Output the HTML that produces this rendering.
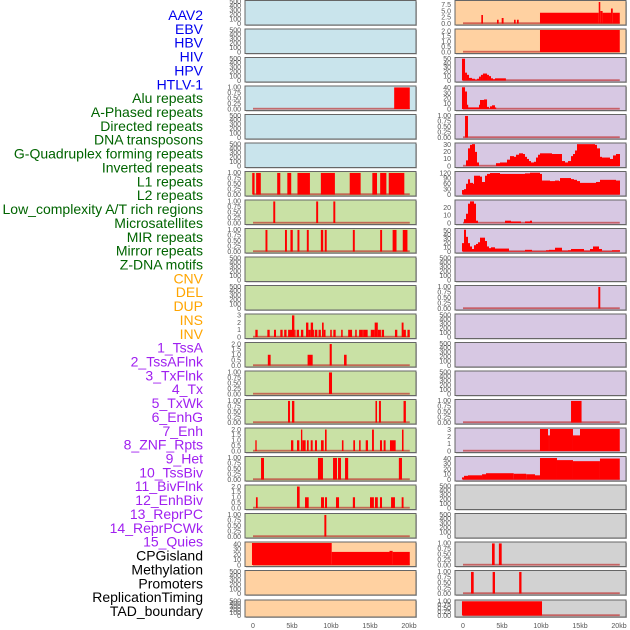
<!DOCTYPE html>
<html><head><meta charset="utf-8"><style>
html,body{margin:0;padding:0;background:#fff;}
svg{display:block;font-family:"Liberation Sans",sans-serif;}
</style></head><body>
<svg id="chart" width="630" height="630" viewBox="0 0 630 630" xmlns="http://www.w3.org/2000/svg"></svg>
<script>
// ---- data (kb start, kb end, value) ----
const hivBars=[[18.1,20.1,1]];
const aluBars=[[-0.1,0.2,1],[0.4,1.0,1],[3.1,3.5,1],[4.4,4.9,1],[5.7,7.3,1],[8.7,10.5,1],[12.4,13.8,1],[15.3,15.9,1],[16.3,17.1,1],[17.4,19.4,1]];
const aphasedBars=[[2.6,2.85,1],[8.1,8.35,1],[10.3,10.55,1]];
const directedBars=[[1.6,1.85,1],[4.1,4.35,1],[4.8,5.1,1],[5.7,5.95,1],[6.9,7.15,1],[8.7,9.0,1],[9.2,9.45,1],[12.8,13.05,1],[16.3,16.55,1],[17.9,18.4,1],[19.2,19.8,1]];
const invertedBars=[[0.3,0.6,1],[1.84,2.14,1],[2.69,2.95,1],[3.5,3.8,1],[4.0,4.3,1],[4.5,5.0,1],[5.0,5.3,3],[5.3,5.4,1],[5.6,5.9,1],[6.15,6.45,1],[6.8,7.1,2],[7.1,7.4,1],[7.4,7.7,2],[7.7,7.8,1],[7.95,8.25,1],[8.4,8.7,1],[8.85,9.06,2],[9.06,9.3,1],[9.9,10.1,1],[10.3,10.6,1],[11.3,11.5,1],[12.2,12.7,1],[13.1,13.3,1],[13.6,14.0,1],[14.0,14.2,1],[14.2,14.7,1],[15.1,15.6,1],[15.6,16.0,2],[16.0,16.4,1],[16.5,16.8,1],[18.2,18.5,1],[19.06,19.3,2],[19.3,19.6,1],[19.8,20.1,1]];
const l1Bars=[[1.9,2.26,1],[7.0,7.65,1],[9.83,10.1,2],[11.67,12.0,1]];
const l2Bars=[[9.74,10.13,1]];
const lowcBars=[[4.49,4.74,1],[5.0,5.3,1],[15.7,15.9,1],[16.15,16.4,1],[19.3,19.6,1]];
const microBars=[[0.3,0.47,1],[4.87,5.17,1],[5.64,5.94,1],[6.15,6.32,2],[6.32,6.75,1],[6.92,7.14,1],[7.4,7.65,1],[7.95,8.2,1],[8.72,9.06,1],[9.23,9.44,2],[11.4,11.6,1],[12.86,13.08,1],[13.6,13.8,1],[14.45,14.74,1],[15.26,15.5,2],[16.28,16.54,1],[16.75,17.0,1],[17.56,18.29,1],[19.1,19.3,2]];
const mirBars=[[1.03,1.41,1],[8.33,8.97,1],[10.26,10.77,1],[10.9,11.28,1],[11.8,12.2,1],[18.7,19.1,1]];
const mirrorBars=[[0.38,0.6,1],[5.64,5.98,2],[6.67,7.14,1],[8.72,9.1,1],[9.23,9.49,1],[10.64,11.03,1],[12.8,13.08,1],[15.0,15.5,1],[15.64,16.0,1],[16.28,16.54,1],[17.7,18.2,1],[19.06,19.3,1]];
const zdnaBars=[[9.15,9.4,1]];
const cnvBars=[[-0.13,10.09,42],[10.09,17.5,25],[17.5,17.9,27],[17.9,20.1,25]];
const insBars=[[2.35,2.56,3.4],[4.36,4.57,1.5],[4.96,5.2,2.2],[6.54,6.75,1.5],[6.92,7.14,1.5],[9.87,17.4,4.3],[17.4,17.6,8.6],[17.6,17.9,5.0],[17.9,18.97,4.3],[18.97,19.2,6.0],[19.2,20.1,4.3]];
const invBars=[[9.87,20.1,2.1]];
const tssaBars=[[-0.13,0.26,50],[0.26,0.51,18],[0.51,0.77,13],[0.77,1.15,6],[1.15,1.54,4],[1.54,1.8,2],[1.8,2.05,4],[2.05,2.3,9],[2.3,2.56,13],[2.56,3.08,16],[3.08,3.33,13],[3.33,3.59,10],[3.59,3.85,5],[3.85,4.1,3],[4.1,5.5,5]];
const tssaflnkBars=[[-0.13,0.26,41],[0.26,0.51,33],[0.51,0.64,8],[0.64,2.05,3],[2.05,2.18,8],[2.18,2.69,17],[2.69,3.08,18],[3.08,3.33,4],[3.33,3.46,1],[3.46,3.72,5],[3.72,4.1,7],[4.1,4.23,3]];
const txflnkBars=[[0.26,0.64,1]];
const txZ=[[78,84,8],[84,90,25],[90,96,30],[96,105,31],[105,111,20],[111,117,5],[168,180,4],[180,201,5],[201,210,9],[210,222,14],[222,228,13],[228,237,16],[237,249,18],[249,255,17],[255,261,13],[261,267,10],[267,273,7],[273,282,5],[282,288,6],[288,294,12],[294,300,16],[300,336,18],[336,366,17],[366,375,7],[375,384,5],[384,393,7],[393,399,14],[399,405,17],[405,411,22],[411,435,31],[435,441,31],[441,465,31],[465,471,30],[471,480,25],[480,486,13],[486,510,12],[510,519,10],[519,528,15],[528,540,17]];
const txwkZ=[[66,72,25],[72,78,30],[78,84,60],[84,90,85],[90,99,65],[99,102,60],[102,120,105],[120,126,100],[126,135,70],[135,141,105],[141,150,115],[150,180,120],[180,255,115],[255,270,118],[270,300,122],[300,306,115],[306,330,78],[330,345,75],[345,357,78],[357,360,75],[360,393,92],[393,402,86],[402,411,82],[411,420,75],[420,468,65],[468,480,70],[480,528,82],[528,540,78]];
const enhgZ=[[72,78,5],[78,84,12],[84,90,25],[90,102,28],[102,108,25],[108,114,3],[195,213,3],[213,243,2],[255,270,2],[270,276,3]];
const enhZ=[[66,72,20],[72,78,52],[78,84,35],[84,90,20],[90,96,12],[96,102,6],[102,108,15],[108,114,18],[114,120,22],[120,135,33],[135,141,25],[141,147,12],[147,153,8],[153,165,10],[165,207,7],[207,255,1],[255,276,4],[276,318,1],[318,327,3],[327,345,4],[345,366,9],[366,384,2],[384,393,3],[393,432,6],[432,450,2],[450,459,6],[459,477,12],[477,486,6],[486,516,1],[516,540,3]];
const hetBars=[[17.35,17.6,1]];
const enhgBars2=[[13.85,15.2,1]];
const enhBars2=[[9.87,10.9,3.1],[10.9,11.15,2.2],[11.15,14.1,3.1],[14.1,15.0,2.2],[15.0,20.1,3.1]];
const quiesBars=[[-0.13,0.13,4],[0.13,0.64,7],[0.64,2.44,8],[2.44,2.95,10],[2.95,6.5,12],[6.5,8.1,11],[8.1,9.23,10],[9.23,9.87,8],[9.87,12.05,41],[12.05,14.1,37],[14.1,17.56,35],[17.56,20.1,40]];
const cpgBars=[[3.72,4.06,1],[4.6,4.96,1]];
const methBars=[[1.03,1.37,1],[3.8,4.1,1],[7.2,7.5,1]];
const tadBars=[[-0.13,10.13,1]];
// tick label sets
const tEmpty=["0","100","200","300","400","500"], vEmpty=[0,100,200,300,400,500];
const t1=["0.00","0.25","0.50","0.75","1.00"], v1=[0,0.25,0.5,0.75,1];
const t2=["0.0","0.5","1.0","1.5","2.0"], v2=[0,0.5,1,1.5,2];
const t3=["0","1","2","3"], v3=[0,1,2,3];
const tIns=["0.0","2.5","5.0","7.5"], vIns=[0,2.5,5,7.5];
const xTickVals=[0,5,10,15,20], xTickLabels=["0","5kb","10kb","15kb","20kb"];
const labels=["AAV2","EBV","HBV","HIV","HPV","HTLV-1","Alu repeats","A-Phased repeats","Directed repeats","DNA transposons","G-Quadruplex forming repeats","Inverted repeats","L1 repeats","L2 repeats","Low_complexity A/T rich regions","Microsatellites","MIR repeats","Mirror repeats","Z-DNA motifs","CNV","DEL","DUP","INS","INV","1_TssA","2_TssAFlnk","3_TxFlnk","4_Tx","5_TxWk","6_EnhG","7_Enh","8_ZNF_Rpts","9_Het","10_TssBiv","11_BivFlnk","12_EnhBiv","13_ReprPC","14_ReprPCWk","15_Quies","CPGisland","Methylation","Promoters","ReplicationTiming","TAD_boundary"];
const labelColors=[];
labels.forEach((l,i)=>labelColors.push(i<6?"#0000ee":i<19?"#006400":i<24?"#ffa500":i<39?"#a020f0":"#000"));

function zk(a){return a.map(b=>[(b[0]-69)/23.4,(b[1]-69)/23.4,b[2]]);}
const BLUE="#c9e4ec",GREEN="#c9e1a5",PEACH="#ffd1a1",LAV="#d7c8e3",GREY="#d2d2d2";
// panels: [col,row,bg,bars,ymax,tickVals,tickLabels]
const panels=[
[0,0,BLUE,null],[0,1,BLUE,null],[0,2,BLUE,null],[0,3,BLUE,hivBars,1.02,v1,t1],[0,4,BLUE,null],[0,5,BLUE,null],
[0,6,GREEN,aluBars,1.02,v1,t1],[0,7,GREEN,aphasedBars,1.02,v1,t1],[0,8,GREEN,directedBars,1.02,v1,t1],
[0,9,GREEN,null],[0,10,GREEN,null],[0,11,GREEN,invertedBars,3.05,v3,t3],[0,12,GREEN,l1Bars,2.05,v2,t2],
[0,13,GREEN,l2Bars,1.02,v1,t1],[0,14,GREEN,lowcBars,1.02,v1,t1],[0,15,GREEN,microBars,2.05,v2,t2],
[0,16,GREEN,mirBars,1.02,v1,t1],[0,17,GREEN,mirrorBars,2.05,v2,t2],[0,18,GREEN,zdnaBars,1.02,v1,t1],
[0,19,PEACH,cnvBars,42,[0,10,20,30,40],["0","10","20","30","40"]],[0,20,PEACH,null],[0,21,PEACH,null],
[1,0,PEACH,insBars,8.8,vIns,tIns],[1,1,PEACH,invBars,2.1,v2,t2],
[1,2,LAV,tssaBars,50.5,[0,10,20,30,40,50],["0","10","20","30","40","50"]],
[1,3,LAV,tssaflnkBars,41.5,[0,10,20,30,40],["0","10","20","30","40"]],
[1,4,LAV,txflnkBars,1.02,v1,t1],
[1,5,LAV,zk(txZ),31.2,[0,10,20,30],["0","10","20","30"]],
[1,6,LAV,zk(txwkZ),123,[0,30,60,90,120],["0","30","60","90","120"]],
[1,7,LAV,zk(enhgZ),28.5,[0,10,20],["0","10","20"]],
[1,8,LAV,zk(enhZ),52.5,[0,10,20,30,40,50],["0","10","20","30","40","50"]],
[1,9,LAV,null],[1,10,LAV,hetBars,1.02,v1,t1],[1,11,LAV,null],[1,12,LAV,null],[1,13,LAV,null],
[1,14,LAV,enhgBars2,1.02,v1,t1],[1,15,LAV,enhBars2,3.1,v3,t3],
[1,16,LAV,quiesBars,42,[0,10,20,30,40],["0","10","20","30","40"]],
[1,17,GREY,null],[1,18,GREY,null],[1,19,GREY,cpgBars,1.02,v1,t1],[1,20,GREY,methBars,1.02,v1,t1],[1,21,GREY,tadBars,1.02,v1,t1]
];
const NS="http://www.w3.org/2000/svg";
const svg=document.getElementById("chart");
function mk(tag,attrs,parent){const e=document.createElementNS(NS,tag);for(const k in attrs)e.setAttribute(k,attrs[k]);(parent||svg).appendChild(e);return e;}
// labels
labels.forEach((l,i)=>{
  const t=mk("text",{x:203,y:15+i*13.86+5,"text-anchor":"end","font-size":"14",fill:labelColors[i]});
  t.textContent=l;
  
  
});
panels.forEach(p=>{
  const [col,row,bg,bars,ymax,tv,tl]=p;
  const px=col?455:245, pw=171;
  const top=row===21?600:row*28.5+0.5, h=row===21?17:24.5;
  const g=mk("g",{});
  
  
  mk("rect",{x:px+1,y:top+1,width:pw,height:h,fill:"#bbb"},g);
  mk("rect",{x:px,y:top,width:pw,height:h,fill:bg,stroke:"#666","stroke-width":1},g);
  const yb=top+h-1.5, yt=top+1;
  const X=kb=>px+8+kb*7.8;
  const tvals=bars?tv:vEmpty, tlabs=bars?tl:tEmpty, ym=bars?ymax:500;
  const Y=v=>yb-(v/ym)*(yb-yt);
  tvals.forEach((v,i)=>{
    const t=mk("text",{x:px-4,y:Y(v)+2.3,"text-anchor":"end","font-size":"7",fill:"#555"},g);
    t.textContent=tlabs[i];
    
    
  });
  if(bars){
    const bl=mk("rect",{x:X(0),y:yb-1.2,width:X(20.1)-X(0),height:1.8,fill:"rgba(190,40,40,0.65)"},g);
    
    
    bars.forEach(b=>{
      const x1=X(b[0]),x2=X(b[1]);
      const r=mk("rect",{x:x1,y:Y(b[2]),width:Math.max(x2-x1,1.2),height:yb-Y(b[2]),fill:"#ff0000"},g);
      
      
    });
  }
});
[0,1].forEach(col=>{
  const px=col?455:245;
  xTickVals.forEach((v,i)=>{
    const t=mk("text",{x:px+8+v*7.8,y:628,"text-anchor":"middle","font-size":"7",fill:"#555"});
    t.textContent=xTickLabels[i];
    
    
  });
});
</script>
</body></html>
